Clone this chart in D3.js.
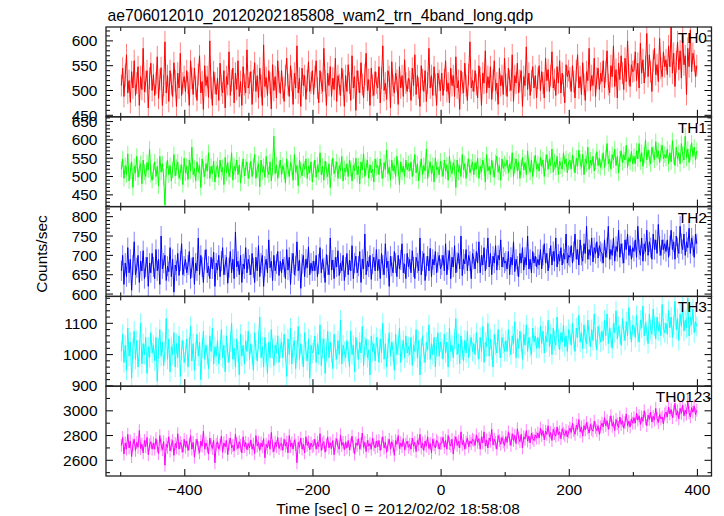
<!DOCTYPE html>
<html><head><meta charset="utf-8">
<script src="https://cdn.jsdelivr.net/npm/d3@7"></script>
<style>body{margin:0;background:#fff}svg{display:block}text{font-family:"Liberation Sans",Arial,Helvetica,sans-serif;fill:#000}</style>
</head><body><svg id="c" width="724" height="516"></svg>
<script>
const titleText = "ae706012010_20120202185808_wam2_trn_4band_long.qdp";
const xLabel = "Time [sec] 0 = 2012/02/02 18:58:08";
const yLabel = "Counts/sec";
const binStart = -500, binSize = 2;
const xDomain = [-523, 422];
const xMajorTicks = [-400, -200, 0, 200, 400];
const xMinorTicks = [-500, -300, -100, 100, 300];
const panelNames = ["TH0", "TH1", "TH2", "TH3", "TH0123"];
const panelColors = ["#ff0000", "#00ff00", "#0000ff", "#00ffff", "#ff00ff"];
const yDomains = [[447, 628], [418, 663], [594, 826], [899, 1186], [2473, 3199]];
const yMajorStep = [50, 50, 50, 100, 200];
const yMinorStep = [10, 10, 10, 20, 100];
const errorBars = [22, 22, 26, 32, 52];

const th0 = [
510,545,488,530,572,495,520,476,538,505,560,490,515,548,470,528,502,585,497,518,540,465,525,555,500,
532,490,515,568,484,522,546,470,510,598,495,530,478,540,512,488,556,520,468,535,505,575,490,515,528,
498,540,515,470,560,525,492,545,508,480,532,570,495,518,462,550,510,528,486,600,505,470,538,515,492,
525,480,555,510,495,540,465,528,512,578,490,520,545,475,535,502,560,488,518,470,548,512,495,582,505,
515,538,472,520,556,498,530,485,545,510,470,592,508,526,490,540,515,463,552,500,528,485,560,518,494,
540,505,478,530,565,512,488,550,520,472,535,505,590,495,525,468,545,510,530,482,520,558,498,515,540,
492,528,560,505,475,540,515,498,585,520,470,535,510,548,488,525,502,565,478,530,512,490,545,520,468,
530,498,552,515,480,570,505,528,460,540,518,495,556,512,485,532,575,500,522,470,545,510,490,538,515,
505,548,475,525,590,500,515,482,540,528,465,558,510,495,535,520,472,548,505,530,488,562,515,498,525,
518,480,545,510,572,492,530,505,468,550,522,498,540,478,515,585,505,530,490,548,512,470,535,520,500,
535,490,522,560,498,515,475,545,510,530,488,568,505,520,462,540,515,495,555,510,480,532,598,505,520,
498,540,512,485,550,525,470,535,515,580,495,528,505,548,482,520,560,500,515,472,545,510,530,492,565,
512,488,545,520,500,572,478,530,515,555,495,520,540,468,528,510,588,502,535,490,520,548,505,530,485,
525,550,500,538,515,485,565,520,542,498,530,578,505,522,490,548,515,560,495,535,510,475,552,528,540,
525,498,550,518,485,540,572,505,528,492,556,512,480,538,520,585,500,530,510,565,488,525,545,502,535,
518,560,505,538,580,512,495,550,528,590,508,542,485,555,522,570,535,502,565,518,600,532,508,552,538,
540,578,520,555,505,595,535,562,515,548,615,528,572,538,498,560,585,532,552,518,605,545,528,578,548,
562,532,590,548,628,535,575,508,558,598,542,580,525,612,552,570,492,585,548,622,538,575,560,528,550
];
const th1 = [
520,548,495,530,505,562,488,515,540,470,528,510,555,498,522,535,480,545,512,500,538,518,575,505,490,
515,540,500,528,475,555,512,535,498,422,520,545,505,530,488,518,560,502,525,540,495,512,532,478,550,
510,528,492,545,515,580,505,522,488,540,512,530,470,548,520,500,535,515,565,495,528,508,542,485,520,
530,498,545,512,525,478,552,510,538,500,520,565,490,528,515,545,505,532,482,518,548,502,525,540,495,
515,542,500,528,560,495,520,535,472,545,512,528,498,555,518,505,540,488,525,610,508,532,495,520,545,
505,530,515,482,548,520,500,538,525,490,560,512,530,475,545,518,502,535,520,548,495,528,510,540,485,
520,545,498,530,512,565,505,528,490,542,518,500,535,470,525,550,508,520,540,495,530,515,555,488,522,
512,535,500,545,522,488,530,515,550,505,528,480,540,518,562,500,525,545,495,532,510,520,485,548,525,
530,505,548,515,495,538,520,572,508,525,490,545,515,530,500,555,522,478,540,512,528,500,545,518,535,
515,540,500,525,560,510,535,488,520,548,505,530,515,575,495,522,540,508,530,485,550,518,525,505,542,
522,500,545,515,532,490,555,520,508,538,525,470,545,512,530,500,560,518,535,495,528,548,510,525,540,
505,538,520,550,495,528,512,545,530,485,560,515,528,505,545,520,498,538,555,512,530,490,548,522,535,
528,545,510,535,520,565,500,530,548,515,540,495,525,552,518,538,505,570,528,512,545,500,535,558,520,
535,515,552,528,545,500,538,560,520,548,530,575,512,540,525,555,505,542,530,520,565,535,548,510,540,
545,520,558,535,510,550,528,572,540,525,560,505,548,535,580,520,545,530,555,515,542,568,530,550,525,
540,565,525,552,590,535,548,520,560,545,575,530,555,510,548,570,538,560,545,585,525,552,540,568,535,
555,535,570,548,590,540,565,528,558,600,545,572,550,535,580,560,545,595,552,570,538,565,585,548,560,
550,575,535,565,540,598,555,530,580,548,565,535,590,560,545,610,550,575,538,565,592,555,580,545,570
];
const th2 = [
660,700,625,680,645,720,655,690,610,675,735,650,668,700,630,685,660,712,640,670,695,620,680,655,705,
670,640,715,660,690,625,750,665,680,700,635,672,658,720,645,690,605,675,660,705,648,685,730,650,672,
690,655,675,710,640,668,695,625,680,660,745,650,700,670,630,688,715,655,672,640,695,665,708,620,680,
662,700,645,685,720,650,675,695,628,668,710,655,690,640,760,670,685,650,700,630,678,665,720,655,690,
675,650,705,668,630,695,660,725,645,680,700,620,672,690,655,740,668,685,635,700,660,678,710,648,685,
655,690,670,640,715,662,695,625,680,705,650,672,735,660,688,615,678,700,645,690,668,722,650,680,660,
685,660,700,645,678,720,655,690,668,630,702,675,650,745,662,688,640,695,670,712,648,680,660,700,635,
670,705,650,688,660,725,640,680,698,655,672,710,630,690,665,755,650,685,670,700,638,678,695,660,715,
660,690,640,705,675,650,730,668,685,620,698,672,655,710,680,645,700,665,688,730,655,678,640,705,670,
690,655,712,670,640,695,680,660,745,650,685,705,635,672,698,660,718,645,690,675,710,655,682,700,665,
675,700,660,730,650,688,712,640,695,670,725,655,682,705,665,750,648,690,678,715,660,700,685,640,705,
690,665,710,680,735,655,700,675,720,660,690,745,670,705,650,698,680,725,662,700,688,740,670,695,680,
685,665,710,650,695,675,735,658,690,672,645,705,680,720,662,695,675,750,665,690,655,710,680,698,670,
690,675,715,665,700,730,680,705,660,693,725,675,710,685,745,670,703,685,720,675,705,690,755,680,700,
695,725,680,710,755,690,715,675,740,700,685,730,705,775,690,715,700,745,683,720,705,735,693,725,710,
705,680,740,695,720,775,690,715,700,745,685,723,710,765,695,730,705,680,740,715,755,700,725,690,720,
710,740,695,775,715,700,745,685,730,710,765,700,735,720,690,755,715,740,705,780,725,700,740,715,730,
710,740,695,725,765,715,735,690,750,720,705,775,730,715,755,700,735,720,770,705,745,725,695,755,730
];
const th3 = [
1010,1065,975,1030,950,1085,995,1040,925,1020,1075,985,1045,960,1010,1100,970,1035,1000,1055,940,1025,990,1070,1005,
1030,980,1055,915,1020,1080,995,1040,965,1010,1115,985,1050,945,1025,1000,1070,960,1035,990,1060,930,1015,1045,975,
1000,1050,960,1025,1090,980,1035,950,1010,1065,995,1040,920,1020,1075,985,1030,1000,955,1060,1010,1085,970,1025,995,
1045,970,1015,1080,990,1030,945,1060,1005,975,1040,1100,985,1020,960,1050,1010,935,1065,995,1030,970,1045,1010,1075,
985,1035,1000,950,1070,1015,980,1045,1120,990,1025,960,1055,1005,940,1040,990,1080,1020,965,1030,1005,1060,975,1020,
1040,990,1065,1010,930,1050,1000,1085,970,1025,1045,955,1015,1090,985,1035,1000,960,1070,1010,980,1050,925,1030,1005,
1015,1060,975,1035,1000,1095,965,1020,1050,940,1010,1075,990,1040,1005,955,1065,1015,985,1045,1000,1110,970,1030,1010,
990,1045,1010,960,1075,1000,1030,945,1055,1015,985,1040,1005,1090,965,1025,1050,990,1015,935,1060,1010,1035,980,1055,
1025,975,1050,1005,1100,985,1035,960,1020,1070,995,1040,1010,950,1065,1000,1030,1085,975,1015,1045,990,1060,1005,1025,
1000,1055,965,1030,1010,1080,990,1045,935,1020,1060,1005,975,1040,1015,1095,985,1035,1000,1055,960,1025,1070,995,1040,
1020,985,1065,1005,1040,960,1085,1010,1030,990,1050,1115,1000,1035,970,1060,1015,980,1045,1005,1075,990,1030,1055,1010,
1035,1000,1070,1020,985,1055,1010,1090,975,1040,1025,1100,995,1050,1015,960,1065,1030,1005,1080,1020,990,1055,1035,1010,
1045,1010,1080,1025,1000,1060,1035,1105,990,1050,1020,1075,1040,985,1065,1030,1095,1010,1055,1025,1000,1085,1040,1060,1020,
1055,1020,1090,1035,1075,1005,1060,1040,1110,1025,1065,1000,1085,1045,1030,1120,1050,1015,1070,1040,1095,1025,1060,1010,1080,
1065,1030,1100,1045,1010,1085,1055,1125,1040,1070,1020,1095,1050,1035,1110,1060,1025,1080,1045,1130,1055,1015,1090,1065,1040,
1075,1045,1110,1060,1130,1035,1085,1055,1020,1100,1070,1140,1050,1090,1065,1030,1115,1075,1045,1105,1060,1150,1080,1040,1095,
1090,1055,1125,1070,1040,1110,1085,1155,1060,1100,1075,1035,1130,1080,1065,1145,1090,1050,1120,1075,1100,1060,1160,1085,1070,
1100,1065,1140,1085,1120,1055,1095,1170,1080,1115,1045,1130,1090,1160,1075,1110,1085,1180,1060,1120,1095,1145,1070,1105,1090
];
const th0123 = [
2720,2785,2650,2740,2690,2810,2700,2755,2630,2725,2770,2680,2745,2705,2840,2695,2730,2660,2760,2710,2785,2645,2725,2750,2690,
2740,2690,2775,2710,2655,2800,2725,2685,2750,2560,2730,2705,2790,2675,2720,2760,2640,2735,2700,2815,2690,2745,2715,2665,2770,
2705,2755,2680,2730,2800,2690,2745,2625,2720,2770,2700,2660,2755,2715,2835,2690,2740,2710,2650,2780,2725,2695,2760,2580,2730,
2750,2690,2725,2795,2665,2740,2710,2760,2645,2730,2780,2700,2720,2675,2810,2735,2695,2750,2720,2660,2790,2710,2745,2685,2735,
2700,2765,2690,2730,2655,2800,2715,2745,2680,2740,2710,2775,2620,2730,2700,2760,2690,2825,2715,2670,2745,2710,2785,2695,2730,
2735,2680,2770,2715,2745,2660,2800,2710,2740,2690,2765,2725,2580,2745,2705,2780,2690,2730,2660,2790,2720,2750,2685,2740,2710,
2720,2770,2690,2745,2710,2815,2680,2735,2750,2665,2725,2790,2700,2740,2695,2760,2645,2730,2775,2710,2690,2805,2720,2745,2685,
2745,2700,2760,2685,2730,2795,2710,2650,2740,2720,2775,2690,2735,2820,2705,2745,2670,2760,2715,2735,2690,2780,2725,2700,2755,
2710,2760,2680,2735,2790,2700,2745,2665,2725,2770,2690,2750,2715,2640,2760,2730,2800,2695,2740,2710,2775,2685,2730,2755,2705,
2730,2690,2780,2715,2745,2670,2760,2725,2810,2700,2740,2680,2755,2715,2790,2695,2735,2660,2770,2725,2700,2760,2745,2690,2735,
2740,2785,2705,2760,2690,2800,2735,2715,2770,2650,2745,2790,2720,2755,2700,2830,2725,2760,2690,2745,2780,2710,2755,2735,2770,
2760,2720,2805,2745,2775,2690,2790,2740,2830,2715,2765,2700,2780,2755,2850,2725,2770,2745,2690,2800,2760,2730,2785,2750,2720,
2790,2745,2830,2770,2720,2815,2760,2800,2735,2855,2780,2750,2810,2700,2790,2770,2840,2755,2795,2740,2820,2775,2760,2805,2780,
2820,2780,2860,2800,2840,2765,2835,2810,2880,2790,2825,2760,2850,2815,2795,2870,2805,2830,2775,2855,2820,2800,2840,2790,2830,
2860,2825,2900,2840,2810,2885,2850,2930,2830,2870,2795,2880,2845,2905,2860,2820,2890,2850,2835,2915,2865,2840,2880,2810,2870,
2900,2870,2945,2880,2920,2850,2905,2960,2875,2910,2840,2930,2895,2865,2950,2890,2920,2860,2905,2975,2880,2915,2870,2935,2900,
2945,2900,2980,2925,2960,2890,2950,2915,3000,2935,2880,2965,2930,2990,2910,2955,2925,3020,2940,2905,2970,2935,2950,2895,2975,
2990,2950,3030,2975,3010,2945,2995,3060,2965,3000,2935,3020,2980,3045,2960,3005,2975,3080,2985,2950,3025,2990,3040,2970,3005
];
const seriesValues = [th0, th1, th2, th3, th0123];

const svg = d3.select("#c");
const left = 106, right = 711.5, top0 = 27, bottom = 476;
const nP = panelNames.length;
const ph = (bottom - top0) / nP;
const x = d3.scaleLinear().domain(xDomain).range([left, right]);
const fs = 15.5;

svg.append("text").attr("x", left + 1.5).attr("y", 20.5).attr("font-size", 15.7).text(titleText);

const defs = svg.append("defs");

seriesValues.forEach((vals, p) => {
  const pt = top0 + p * ph, pb = pt + ph;
  const y = d3.scaleLinear().domain(yDomains[p]).range([pb, pt]);
  const color = panelColors[p];
  const e = errorBars[p];
  const times = vals.map((_, i) => binStart + binSize * (i + 0.5));

  defs.append("clipPath").attr("id", "clip" + p)
    .append("rect").attr("x", left).attr("y", pt).attr("width", right - left).attr("height", ph);
  const g = svg.append("g").attr("clip-path", `url(#clip${p})`);

  const errPath = vals.map((v, i) => `M${x(times[i]).toFixed(2)},${y(v - e).toFixed(2)}V${y(v + e).toFixed(2)}`).join("");
  g.append("path").attr("d", errPath).attr("stroke", color).attr("stroke-opacity", 0.5)
    .attr("stroke-width", 1).attr("fill", "none");
  const line = d3.line().x((v, i) => x(times[i])).y(v => y(v));
  g.append("path").attr("d", line(vals)).attr("stroke", color).attr("stroke-width", 1).attr("fill", "none");

  const tg = svg.append("g").attr("stroke", "#000").attr("stroke-width", 1);
  const [d0, d1] = yDomains[p];
  const minors = d3.range(Math.ceil(d0 / yMinorStep[p]) * yMinorStep[p], d1 + 0.001, yMinorStep[p]);
  minors.forEach(v => {
    const isMajor = Math.abs(v / yMajorStep[p] - Math.round(v / yMajorStep[p])) < 1e-6;
    const len = isMajor ? 7 : 4;
    const yy = y(v);
    tg.append("line").attr("x1", left).attr("x2", left + len).attr("y1", yy).attr("y2", yy);
    tg.append("line").attr("x1", right).attr("x2", right - len).attr("y1", yy).attr("y2", yy);
    if (isMajor) {
      svg.append("text").attr("x", left - 8.5).attr("y", yy).attr("dy", "0.36em")
        .attr("text-anchor", "end").attr("font-size", fs).text(d3.format("d")(v));
    }
  });
  xMajorTicks.forEach(v => {
    tg.append("line").attr("x1", x(v)).attr("x2", x(v)).attr("y1", pt).attr("y2", pt + 7);
    tg.append("line").attr("x1", x(v)).attr("x2", x(v)).attr("y1", pb).attr("y2", pb - 7);
  });
  xMinorTicks.forEach(v => {
    tg.append("line").attr("x1", x(v)).attr("x2", x(v)).attr("y1", pt).attr("y2", pt + 4);
    tg.append("line").attr("x1", x(v)).attr("x2", x(v)).attr("y1", pb).attr("y2", pb - 4);
  });

  svg.append("rect").attr("x", left).attr("y", pt).attr("width", right - left).attr("height", ph)
    .attr("fill", "none").attr("stroke", "#222").attr("stroke-width", 1.3);

  const labelRight = p === nP - 1 ? 711 : 707;
  svg.append("text").attr("x", labelRight).attr("y", pt + 16).attr("text-anchor", "end")
    .attr("font-size", fs).text(panelNames[p]);
});

xMajorTicks.forEach(v => {
  svg.append("text").attr("x", x(v)).attr("y", 495).attr("text-anchor", "middle")
    .attr("font-size", fs).text(d3.format("d")(v));
});

svg.append("text").attr("x", 398).attr("y", 513.5).attr("text-anchor", "middle")
  .attr("font-size", fs).text(xLabel);
svg.append("text").attr("transform", `translate(47,254) rotate(-90)`)
  .attr("text-anchor", "middle").attr("font-size", fs).text(yLabel);
</script>
</body></html>
